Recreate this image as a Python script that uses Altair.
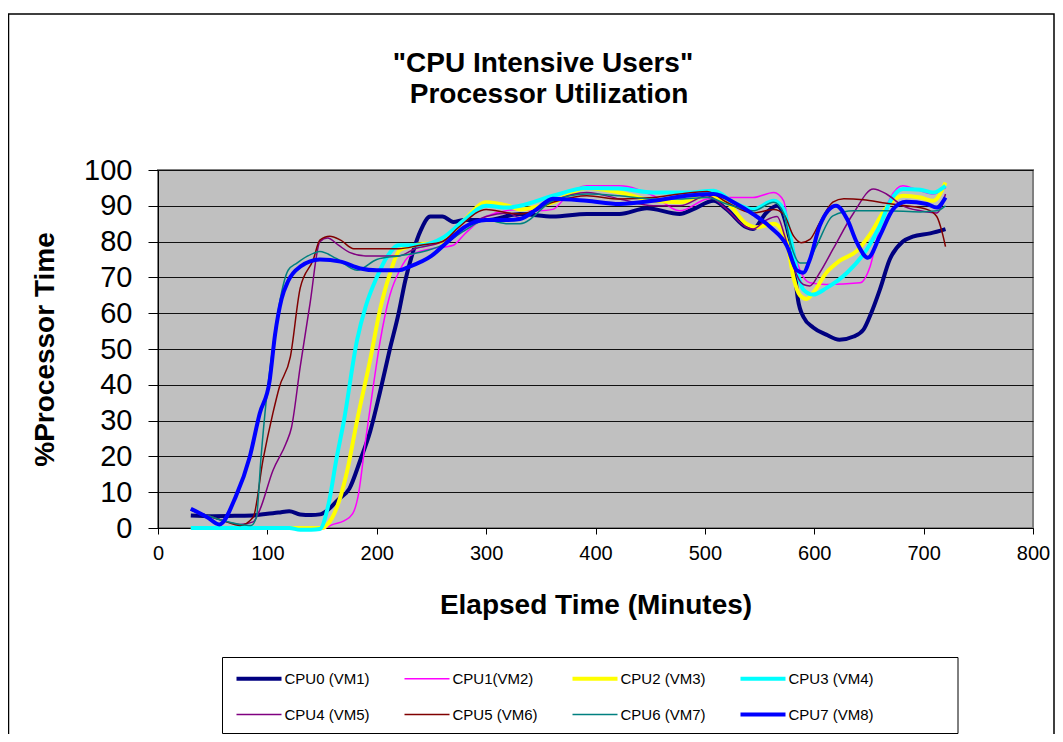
import altair as alt
import pandas as pd

NAMES = ["CPU0 (VM1)", "CPU1(VM2)", "CPU2 (VM3)", "CPU3 (VM4)",
         "CPU4 (VM5)", "CPU5 (VM6)", "CPU6 (VM7)", "CPU7 (VM8)"]
COLORS = ["#000080", "#FF00FF", "#FFFF00", "#00FFFF",
          "#800080", "#800000", "#008080", "#0000FF"]
WIDTHS = [4, 1.5, 4, 4, 1.5, 1.5, 1.5, 4]

X_TICKS = [0, 100, 200, 300, 400, 500, 600, 700, 800]
Y_TICKS = [0, 10, 20, 30, 40, 50, 60, 70, 80, 90, 100]

CPU0_T = [30,50,70,90,100,110,120,130,140,148,155,165,175,185,194,203,212,220,226,233,240,249,260,270,280,300,331,361,392,422,447,477,489,508,520,538,544,556,566,575,581,585,590,599,611,623,636,645,652,660,669,681,690,706,720]
CPU0_V = [3.5,3.3,3.4,3.6,4.0,4.3,4.7,3.8,3.6,3.8,5,8,11,19,27,38,50,60,69,77,83,87,87,85.5,86,86,87.7,87,87.7,87.7,89.3,87.7,89,91.4,89,84,83.5,88,90,84,75,64,59,56,54,52.6,53.5,55.4,60,66.6,75,80,81.4,82.3,83.5]

CPU1_T = [30,60,90,120,130,140,150,160,170,178,183,190,197,203,212,221,230,250,270,280,300,331,349,361,374,392,422,453,477,502,520,544,563,572,578,587,596,611,642,651,660,669,681,697,709,720]
CPU1_V = [0,0,0,0,-0.3,-0.5,-0.3,1,2,4,9,25,40,52,65,72,76,78,79,82,87,89,88.6,89,92.8,95.6,95.6,92.8,88.6,91.9,92.3,92.3,93.7,91.4,81.6,72,68.5,68,68.5,73,84.4,91.9,95.6,94.2,93.3,95]

CPU2_T = [30,60,90,120,150,155,165,173,182,194,203,212,221,235,260,280,300,320,331,361,392,422,453,477,502,520,538,547,563,575,581,587,593,599,611,623,639,651,666,681,697,709,720]
CPU2_V = [0,0,0,0,0,1,7,16,30,47,61,71,77.6,79,80,86,91,90,89,91,95,93.7,91.4,91,92.8,91,85,84,85,79.7,70,65,64,65.7,71.3,74.6,77.4,82,89.5,92.8,92.3,91.4,96.5]

CPU3_T = [30,60,90,120,130,140,148,156,163,170,182,190,200,210,220,240,260,280,300,320,331,361,392,422,453,483,508,526,544,563,572,578,584,590,599,611,630,648,660,669,681,697,709,720]
CPU3_V = [0,0,0,0,-0.5,-0.5,-0.3,6.8,19,30,52.5,62,70,76,79,79,81,86,90,89.5,90,92.8,95,94.8,93.7,93.7,94.2,91,89,91.4,89,81.6,72.2,66.6,65.2,67,71.3,77.8,84.4,91,94.7,94.5,93.7,95.6]

CPU4_T = [30,45,60,75,87,93,105,117,122,130,139,148,155,165,175,190,220,235,260,275,300,320,331,361,392,422,453,477,502,520,538,544,556,566,573,581,590,596,605,617,636,654,666,681,697,712,720]
CPU4_V = [5,3.5,2,1,1.7,5,16,23.6,28,45,62.7,80,81,79,77,76,76,78,80,83,87,88,86.7,91.4,93.7,91.9,90,90,92.8,89,84,83.5,86,87,81.6,73,68,67.6,71.3,77.8,88,94.7,93.3,90,88.6,88,93.3]

CPU5_T = [30,45,60,75,87,96,105,111,121,130,142,148,157,167,179,200,220,240,260,275,300,320,331,361,392,422,453,477,502,520,544,563,572,581,588,596,605,617,627,645,666,684,703,712,717,720]
CPU5_V = [5,3.5,2,0.7,3,19,32,39.4,47.8,67,75,80.4,81.5,80.4,78,78,78,79,80,84,89,88,87.7,91,92.8,91.9,92.3,93.3,94,91,88,89,87.7,81.6,79.7,80.6,85.3,91,92,91.7,90.7,90,89,87,82.5,78.6]

CPU6_T = [30,45,60,75,85,90,94,99,105,111,119,127,142,148,163,182,200,220,240,260,280,300,320,331,361,392,422,453,477,502,520,544,563,572,579,587,593,602,617,636,666,697,712,720]
CPU6_V = [5,3.5,2,1,0.7,3,19,35.7,50.6,62.7,72,74,76.7,77.2,75.3,72,75,76,77,79,83,86,85,85,91.4,93.3,92.8,91.9,91.9,92.3,90.5,88.6,91,88,78.8,74,74,78.8,87.2,88.6,88.6,88.3,88.6,90]

CPU7_T = [30,45,56,71,84,93,102,107,113,119,130,148,167,185,200,220,230,250,265,280,300,320,331,346,361,392,422,453,483,508,529,544,560,575,584,590,596,605,620,630,639,649,660,672,684,703,712,720]
CPU7_V = [5.4,3,1,8.7,20,32,41,54,64,69,73,75,74.4,72.5,72,72,73,76,80,84,86,86,86.3,89,92,91.4,90.5,91.4,92.8,93.3,90.5,87.7,84,78.8,72,71.3,75,84.4,90,86.3,79.7,75.5,81.6,89,91.1,90.5,89.5,92.3]

SERIES = [(CPU0_T, CPU0_V), (CPU1_T, CPU1_V), (CPU2_T, CPU2_V), (CPU3_T, CPU3_V),
          (CPU4_T, CPU4_V), (CPU5_T, CPU5_V), (CPU6_T, CPU6_V), (CPU7_T, CPU7_V)]

TITLE_1 = '"CPU Intensive Users"'
TITLE_2 = 'Processor Utilization'

rows = []
for name, (ts, vs) in zip(NAMES, SERIES):
    for t, v in zip(ts, vs):
        rows.append({"series": name, "t": t, "v": v})
df = pd.DataFrame(rows)

FONT = "Liberation Sans"
W, H = 875, 358

x_axis = alt.Axis(values=X_TICKS, labelFontSize=20, labelFont=FONT, labelColor="black",
                  labelPadding=9, labelFlush=False, labelOverlap=False,
                  tickSize=6, tickColor="black", domainColor="black", domainWidth=1,
                  grid=False, title="Elapsed Time (Minutes)", titleFont=FONT,
                  titleFontSize=28, titleFontWeight="bold", titleColor="black",
                  titleY=77, titleBaseline="middle")
y_axis = alt.Axis(values=Y_TICKS, labelFontSize=29, labelFont=FONT, labelColor="black",
                  labelPadding=16, labelFlush=False, labelOverlap=False,
                  tickSize=10, tickColor="black", domainColor="black", domainWidth=1,
                  grid=True, gridColor="#111111", gridWidth=1,
                  title="%Processor Time", titleFont=FONT, titleFontSize=28,
                  titleFontWeight="bold", titleColor="black",
                  titleX=-113, titleY=H / 2, titleAngle=270, titleAlign="center",
                  titleBaseline="middle")

# legend symbol width per entry, built from NAMES / WIDTHS
width_expr = "1.5"
for n, w in zip(NAMES, WIDTHS):
    width_expr = f"datum.value === '{n}' ? {w} : ({width_expr})"

legend = alt.Legend(title=None, orient="none", legendX=79.5, legendY=487,
                    direction="horizontal", columns=4, symbolType="stroke",
                    symbolSize=2025, symbolStrokeWidth=alt.ExprRef(width_expr),
                    labelFont=FONT, labelFontSize=15,
                    labelColor="black", labelOffset=18,
                    padding=14, columnPadding=26, rowPadding=19, gridAlign="all")

layers = []
for name, w in zip(NAMES, WIDTHS):
    layers.append(
        alt.Chart(df).transform_filter(alt.datum.series == name)
        .mark_line(interpolate="monotone", strokeWidth=w)
        .encode(
            x=alt.X("t:Q", scale=alt.Scale(domain=[0, 800], nice=False), axis=x_axis),
            y=alt.Y("v:Q", scale=alt.Scale(domain=[0, 100], nice=False), axis=y_axis),
            color=alt.Color("series:N", scale=alt.Scale(domain=NAMES, range=COLORS), legend=legend),
            order="t:Q",
        )
    )

one = pd.DataFrame({"k": [0]})
border = alt.Chart(one).mark_rect(fillOpacity=0, stroke="black", strokeWidth=1.5).encode(
    x=alt.value(-149.5), x2=alt.value(896), y=alt.value(-156), y2=alt.value(700))
legend_box = alt.Chart(one).mark_rect(fillOpacity=0, stroke="black", strokeWidth=1).encode(
    x=alt.value(64.5), x2=alt.value(800), y=alt.value(487.5), y2=alt.value(563.5))
title1 = alt.Chart(one).mark_text(text=TITLE_1, font=FONT, fontSize=28, fontWeight="bold",
                                  align="center", baseline="middle", color="black").encode(
    x=alt.value(385), y=alt.value(-106))
title2 = alt.Chart(one).mark_text(text=TITLE_2, font=FONT, fontSize=28, fontWeight="bold",
                                  align="center", baseline="middle", color="black").encode(
    x=alt.value(391), y=alt.value(-75))

chart = alt.layer(border, legend_box, *layers, title1, title2).properties(
    width=W, height=H,
    autosize=alt.AutoSizeParams(type="none"),
    padding={"left": 150, "top": 162, "right": 22, "bottom": 206},
    background="white",
).configure_view(fill="#C0C0C0", stroke="#808080", strokeWidth=2)

chart.save("out.html", embed_options={"renderer": "svg", "actions": False})
